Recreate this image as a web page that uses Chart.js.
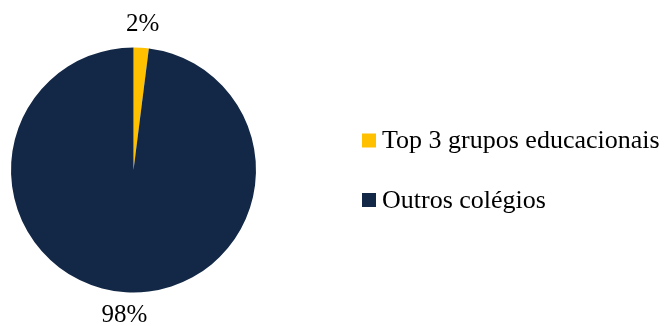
<!DOCTYPE html>
<html>
<head>
<meta charset="utf-8">
<script src="https://cdn.jsdelivr.net/npm/chart.js@4/dist/chart.umd.min.js"></script>
<style>
    html, body { margin: 0; padding: 0; background: #fff; }
    #wrap { width: 671px; height: 326px; position: relative; }
    .preload { font-family: "Liberation Serif"; position: absolute; left: -999px; }
</style>
</head>
<body>
<span class="preload">Top 3 2%</span>
<div id="wrap"><canvas id="myPie"></canvas></div>
<script>
const categories = ['Top 3 grupos educacionais', 'Outros colégios'];
const shares = [2, 98];
const sliceColors = ['#FFC000', '#132846'];

const FONT = '"Liberation Serif", "Times New Roman", serif';

// percentage labels outside the pie, on the mid-angle of each slice
const outsideLabels = {
    id: 'outsideLabels',
    afterDatasetsDraw(chart) {
        const ctx = chart.ctx;
        const meta = chart.getDatasetMeta(0);
        ctx.save();
        ctx.font = '25px ' + FONT;
        ctx.fillStyle = '#000';
        ctx.textAlign = 'center';
        ctx.textBaseline = 'middle';
        meta.data.forEach(function (arc, i) {
            const mid = (arc.startAngle + arc.endAngle) / 2;
            const r = arc.outerRadius + 23;
            ctx.fillText(shares[i] + '%', arc.x + Math.cos(mid) * r, arc.y + Math.sin(mid) * r);
        });
        ctx.restore();
    }
};

// legend to the right of the pie
const legendRows = [140.5, 200];
const sideLegend = {
    id: 'sideLegend',
    afterDraw(chart) {
        const ctx = chart.ctx;
        ctx.save();
        ctx.font = '26px ' + FONT;
        ctx.textBaseline = 'middle';
        ctx.textAlign = 'left';
        categories.forEach(function (name, i) {
            const cy = legendRows[i];
            ctx.fillStyle = sliceColors[i];
            ctx.fillRect(362, cy - 7, 14, 14);
            ctx.fillStyle = '#000';
            ctx.fillText(name, 382, cy + 1);
        });
        ctx.restore();
    }
};

const pieConfig = {
    type: 'pie',
    data: {
        labels: categories,
        datasets: [{
            data: shares,
            backgroundColor: sliceColors,
            borderWidth: 0
        }]
    },
    options: {
        responsive: true,
        maintainAspectRatio: false,
        animation: false,
        layout: {
            padding: { left: 11, right: 415, top: 47, bottom: 33 }
        },
        plugins: {
            legend: { display: false },
            tooltip: { enabled: false }
        }
    },
    plugins: [outsideLabels, sideLegend]
};

var myPie;
document.fonts.load('26px "Liberation Serif"').then(function () {
    myPie = new Chart(document.getElementById('myPie'), pieConfig);
});
</script>
</body>
</html>
